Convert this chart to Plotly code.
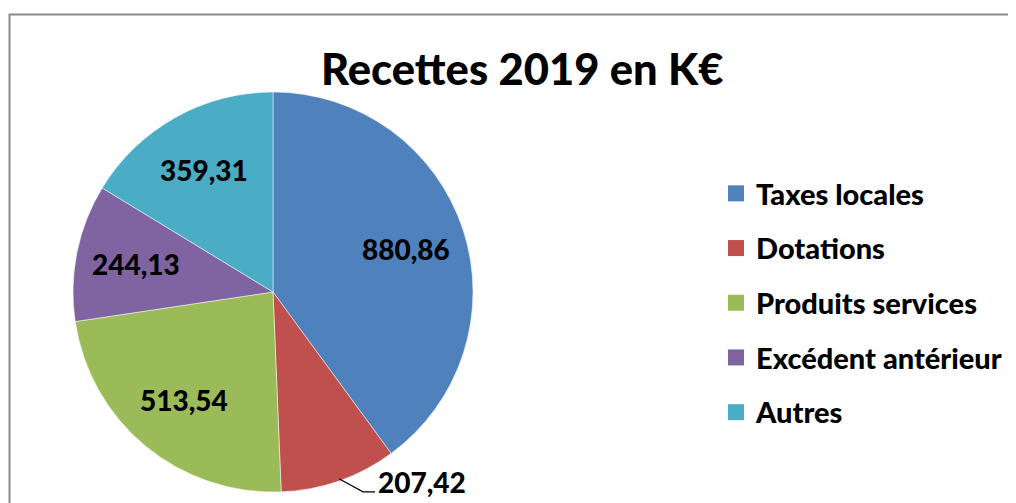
import math
import plotly.graph_objects as go

title = "Recettes 2019 en K€"
categories = ["Taxes locales", "Dotations", "Produits services", "Excédent antérieur", "Autres"]
values = [880.86, 207.42, 513.54, 244.13, 359.31]
colors = ["#4F81BD", "#C0504D", "#9BBB59", "#8064A2", "#4BACC6"]
outside = [False, True, False, False, False]

W, H = 1016, 503
OFF = 8  # page body margin
FONT = "Lato"
cx, cy, r = 273 - OFF, 292 - OFF, 200  # pie centre / radius in figure pixels


def px_to_paper(px, py):
    return px / W, 1 - py / H


fig = go.Figure()
fig.add_trace(go.Pie(
    labels=categories, values=values, sort=False, direction="clockwise", rotation=0,
    marker=dict(colors=colors, line=dict(color="white", width=0.5)),
    textinfo="none", hoverinfo="label+value", showlegend=False,
    domain=dict(x=[(cx - r) / W, (cx + r) / W], y=[1 - (cy + r) / H, 1 - (cy - r) / H]),
))

# legend entries
for c, col in zip(categories, colors):
    fig.add_trace(go.Scatter(x=[None], y=[None], mode="markers", name=c, legendgroup=c,
                             marker=dict(symbol="square", size=18, color=col)))

lab_font = dict(size=28, color="black", family=FONT, weight=900)

# data labels placed from slice geometry
total = sum(values)
annotations = []
shapes = []
cum = 0
for v, out in zip(values, outside):
    mid = (cum + v / 2) / total * 2 * math.pi
    cum += v
    txt = f"{v:.2f}".replace(".", ",")
    if not out:
        px = cx + 0.7 * r * math.sin(mid)
        py = cy - 0.7 * r * math.cos(mid)
        x, y = px_to_paper(px, py)
        annotations.append(dict(x=x, y=y, xref="paper", yref="paper", text=txt,
                                xanchor="center", yanchor="middle",
                                showarrow=False, font=lab_font))
    else:
        ex = cx + r * math.sin(mid)
        ey = cy - r * math.cos(mid)
        pts = [(ex, ey - 2), (ex + 24, ey + 11), (ex + 36, ey + 11)]
        path = "M " + " L ".join(f"{p[0]/W},{1 - p[1]/H}" for p in pts)
        shapes.append(dict(type="path", path=path, xref="paper", yref="paper",
                           line=dict(color="black", width=1.2)))
        x, y = px_to_paper(ex + 37, ey + 1)
        annotations.append(dict(x=x, y=y, xref="paper", yref="paper", text=txt,
                                xanchor="left", yanchor="middle",
                                showarrow=False, font=lab_font))

# chart border
shapes.append(dict(type="rect", xref="paper", yref="paper", x0=(9.5 - OFF) / W,
                   y0=1 - (14.5 - OFF) / H, x1=1.03, y1=-0.03,
                   line=dict(color="#8c8c8c", width=2)))

annotations.append(dict(x=(522 - OFF) / W, y=1 - (68 - OFF) / H, xref="paper", yref="paper",
                        text=title, showarrow=False, xanchor="center", yanchor="middle",
                        font=dict(size=43.5, color="black", family=FONT, weight=900)))

fig.update_layout(
    width=W, height=H, margin=dict(l=0, r=0, t=0, b=0),
    paper_bgcolor="white", plot_bgcolor="white",
    xaxis=dict(visible=False), yaxis=dict(visible=False),
    annotations=annotations, shapes=shapes,
    legend=dict(x=(716 - OFF) / W, y=1 - (303 - OFF) / H, xanchor="left", yanchor="middle",
                traceorder="grouped", tracegroupgap=14, itemsizing="trace",
                font=dict(size=29, color="black", family=FONT, weight=900),
                bgcolor="rgba(0,0,0,0)"),
    font=dict(family=FONT),
)
fig.write_html("out.html")
